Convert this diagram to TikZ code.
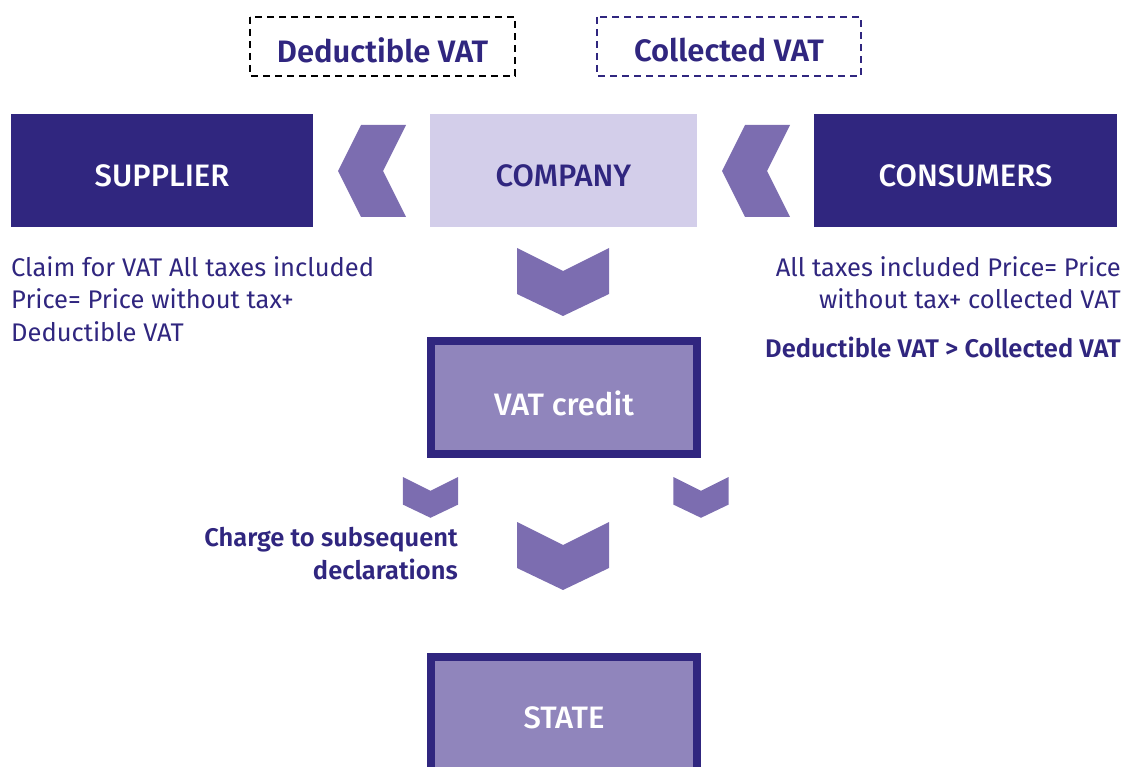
\documentclass[tikz,border=0pt]{standalone}
\usepackage{fontspec}
\setmainfont{Fira Sans}[BoldFont={Fira Sans SemiBold}]
\newfontfamily\medfont{Fira Sans Medium}
\usetikzlibrary{positioning}

\definecolor{vatdark}{HTML}{30267F}
\definecolor{vatchev}{HTML}{7C6DB0}
\definecolor{vatlight}{HTML}{D3CEEA}
\definecolor{vatmid}{HTML}{9085BC}

\tikzset{
  boxfont/.style={font=\medfont\fontsize{31}{36}\selectfont},
  darkbox/.style={boxfont,text=white},
  lightbox/.style={boxfont,text=vatdark},
  midbox/.style={fill=vatmid,draw=vatdark,line width=8pt},
  dashbox/.style={dashed,line width=2pt,dash pattern=on 7pt off 5pt},
  dashlabel/.style={font=\bfseries\fontsize{31}{36}\selectfont,text=vatdark},
  note/.style={text=vatdark,font=\fontsize{25.5}{32.5}\selectfont,inner sep=0pt},
  boldnote/.style={note,font=\bfseries\fontsize{25.5}{32.5}\selectfont},
  chevdown/.pic={\fill[vatchev] (-46,0) -- (0,23) -- (46,0) -- (46,46) -- (0,68) -- (-46,46) -- cycle;},
  chevleft/.pic={\fill[vatchev] (0,0) -- (23,-46) -- (68,-46) -- (45,0) -- (68,46) -- (23,46) -- cycle;}
}

\begin{document}
\begin{tikzpicture}[x=1pt,y=-1pt]
  \useasboundingbox (0,0) rectangle (1128,767);
  \begin{scope}
    \clip (0,0) rectangle (1128,767);

    % top labels
    \draw[dashbox,draw=black] (250,17) rectangle (515,76);
    \node[dashlabel] (deduct) at (382.5,50) {Deductible VAT};
    \draw[dashbox,draw=vatdark] (597,17) rectangle (861,76);
    \node[dashlabel] (collect) at (729,50) {Collected VAT};

    % the three parties
    \fill[vatdark] (11,114) rectangle (313,227);
    \node[darkbox] (supplier) at (162,176) {SUPPLIER};
    \fill[vatlight] (430,114) rectangle (697,227);
    \node[lightbox] (company) at (563.5,176) {COMPANY};
    \fill[vatdark] (814,114) rectangle (1117,227);
    \node[darkbox] (consumers) at (965.5,176) {CONSUMERS};

    \pic at (338,171) {chevleft};
    \pic at (722,171) {chevleft};
    \pic at (563,248) {chevdown};

    % notes
    \node[note,anchor=north west,align=left] (claim) at (11,256)
      {Claim for VAT All taxes included\\Price= Price without tax+\\Deductible VAT};
    \node[note,anchor=north east,align=right] (price) at (1121,256)
      {All taxes included Price= Price\\without tax+ collected VAT};
    \node[boldnote,anchor=north east] (compare) at (1121,337)
      {Deductible VAT > Collected VAT};

    % credit and state
    \draw[midbox] (431,341) rectangle (697,454);
    \node[darkbox] (credit) at (564,403) {VAT credit};

    \pic[scale=0.6] at (430.5,477) {chevdown};
    \pic[scale=0.6] at (701,477) {chevdown};
    \pic at (563,522) {chevdown};

    \node[boldnote,anchor=north east,align=right] (charge) at (458,527)
      {Charge to subsequent\\declarations};

    \draw[midbox] (431,657) rectangle (697,790);
    \node[darkbox] (state) at (564,718) {STATE};
  \end{scope}
\end{tikzpicture}
\end{document}
